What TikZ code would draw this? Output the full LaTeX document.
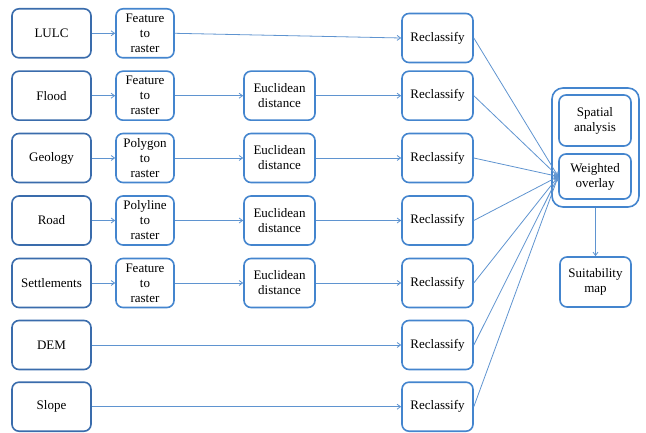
\documentclass[tikz,border=0pt]{standalone}
\usepackage{fontspec}
\setmainfont{Liberation Serif}
\usetikzlibrary{arrows.meta}
\definecolor{boxA}{RGB}{58,108,172}
\definecolor{boxB}{RGB}{68,133,206}
\definecolor{lineC}{RGB}{95,148,208}
\begin{document}
\begin{tikzpicture}[x=1pt,y=-1pt,
 box/.style={draw=boxB, line width=1.6pt, rounded corners=7pt, fill=white, align=center, inner sep=1pt, font=\fontsize{13}{15}\selectfont, minimum height=49pt},
 src/.style={box, draw=boxA, minimum width=79pt},
 conv/.style={box, minimum width=58pt},
 euc/.style={box, minimum width=71pt},
 rec/.style={box, minimum width=71pt},
 link/.style={draw=lineC, line width=0.8pt, -{Straight Barb[length=3.5pt,width=5pt]}},
]
\useasboundingbox (0,0) rectangle (646,433);
% column 1
\node[src] (s1) at (51.5,33.3) {LULC};
\node[src] (s2) at (51.5,95.7) {Flood};
\node[src] (s3) at (51.5,158) {Geology};
\node[src] (s4) at (51.5,220.5) {Road};
\node[src] (s5) at (51.5,283) {Settlements};
\node[src] (s6) at (51.5,345) {DEM};
\node[src] (s7) at (51.5,406.7) {Slope};
% column 2
\node[conv] (c1) at (145,33.3) {Feature\\to\\raster};
\node[conv] (c2) at (145,95.7) {Feature\\to\\raster};
\node[conv] (c3) at (145,158) {Polygon\\to\\raster};
\node[conv] (c4) at (145,220.5) {Polyline\\to\\raster};
\node[conv] (c5) at (145,283) {Feature\\to\\raster};
% column 3
\node[euc] (e2) at (279.5,95.7) {Euclidean\\distance};
\node[euc] (e3) at (279.5,158) {Euclidean\\distance};
\node[euc] (e4) at (279.5,220.5) {Euclidean\\distance};
\node[euc] (e5) at (279.5,283) {Euclidean\\distance};
% column 4
\node[rec] (r1) at (437.5,38) {Reclassify};
\node[rec] (r2) at (437.5,95.7) {Reclassify};
\node[rec] (r3) at (437.5,158) {Reclassify};
\node[rec] (r4) at (437.5,220.5) {Reclassify};
\node[rec] (r5) at (437.5,283) {Reclassify};
\node[rec] (r6) at (437.5,345) {Reclassify};
\node[rec] (r7) at (437.5,406.7) {Reclassify};
% right side
\node[box, rounded corners=11pt, minimum width=87pt, minimum height=119pt] (grp) at (595.5,147.5) {};
\node[box, minimum width=72pt, minimum height=51pt] (sp) at (595,120.5) {Spatial\\analysis};
\node[box, minimum width=72pt, minimum height=45pt] (wo) at (595,176.5) {Weighted\\overlay};
\node[box, minimum width=71pt, minimum height=50pt] (sm) at (595.5,282) {Suitability\\map};
% connectors
\foreach \i in {1,...,5} {\draw[link] (s\i) -- (c\i);}
\draw[link] (c1.east) -- (r1.west);
\foreach \i in {2,...,5} {\draw[link] (c\i) -- (e\i); \draw[link] (e\i) -- (r\i);}
\draw[link] (s6) -- (r6);
\draw[link] (s7) -- (r7);
\foreach \i in {1,...,7} {\draw[link] (r\i.east) -- (wo.west);}
\draw[link] (grp.south) -- (sm.north);
\end{tikzpicture}
\end{document}
